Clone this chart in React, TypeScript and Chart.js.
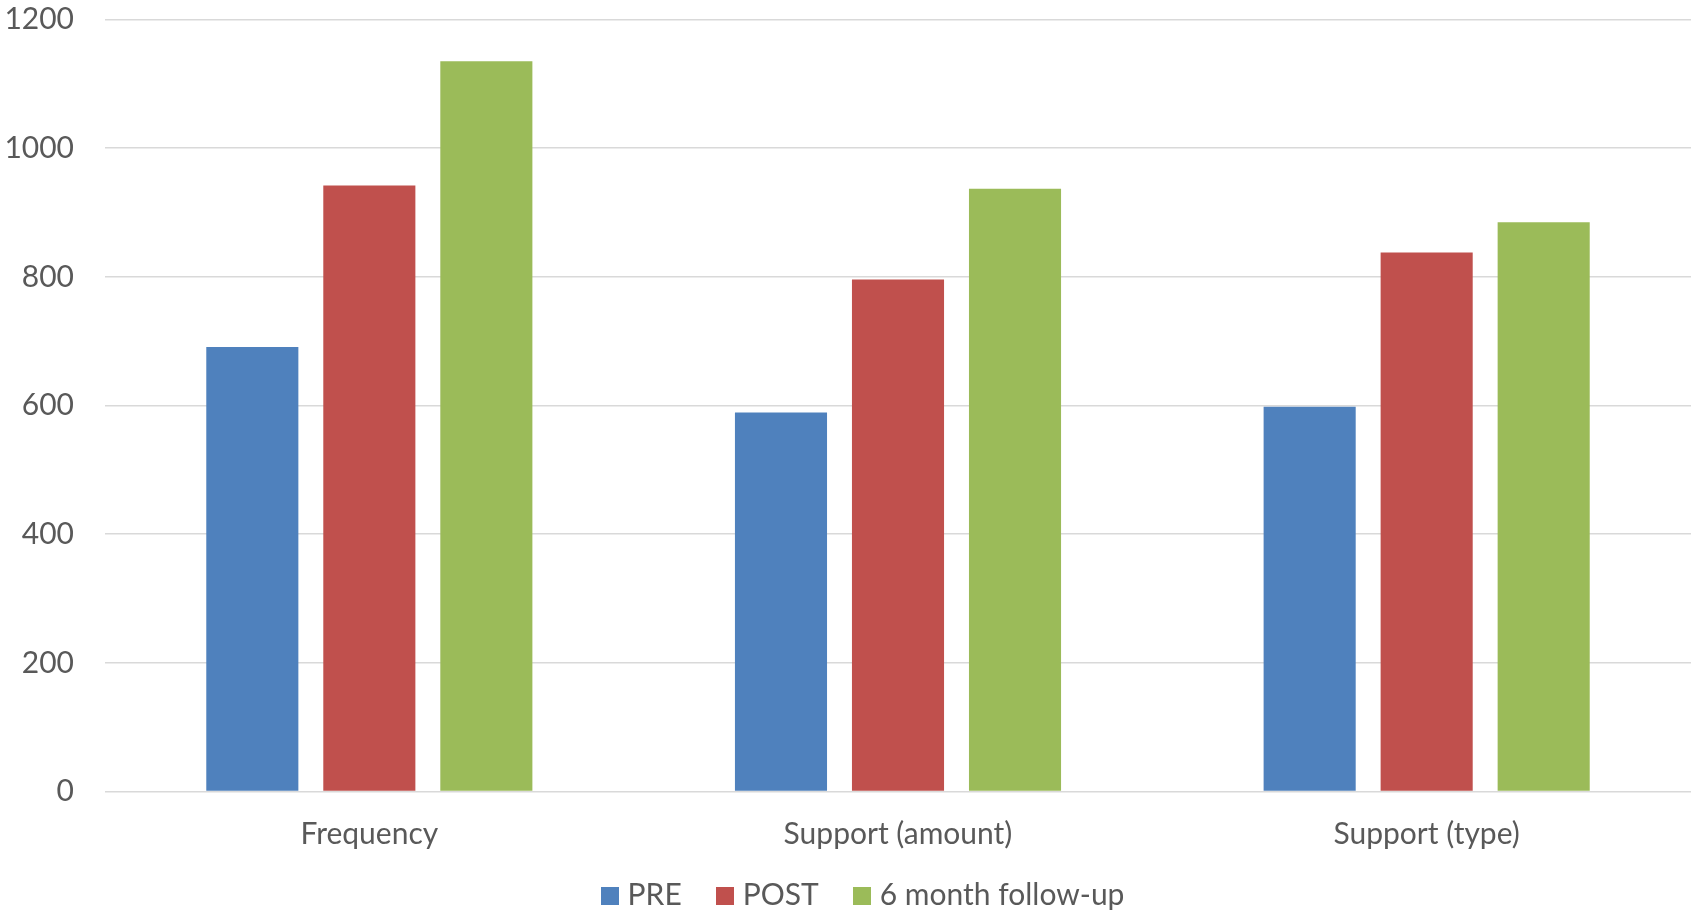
import React, { useEffect, useRef } from "react";
import { Chart, registerables } from "chart.js";

Chart.register(...registerables);

const categories = ["Frequency", "Support (amount)", "Support (type)"];
const preValues = [691, 589, 598];
const postValues = [942, 796, 838];
const followUpValues = [1135, 937, 885];
const seriesLabels = ["PRE", "POST", "6 month follow-up"];
const seriesColors = ["#4F81BD", "#C0504D", "#9BBB59"];
const yTicks = [0, 200, 400, 600, 800, 1000, 1200];

const FONT = "Lato, 'Noto Sans', sans-serif";
const TEXT = "#595959";
const FONT_SIZE = 30;
const SWATCH = 18;

// Square legend swatch painted on a small offscreen canvas.
function makeSwatch(color: string): HTMLCanvasElement {
  const c = document.createElement("canvas");
  c.width = SWATCH;
  c.height = SWATCH;
  const ctx = c.getContext("2d");
  if (ctx) {
    ctx.fillStyle = color;
    ctx.fillRect(0, 0, SWATCH, SWATCH);
  }
  return c;
}

// Moves the legend row slightly right and up from its default slot.
const legendShift = {
  id: "legendShift",
  afterLayout(chart: any) {
    const lg = chart.legend;
    if (lg) {
      lg.left += 20;
      lg.right += 20;
      lg.top -= 10;
      lg.bottom -= 10;
    }
  },
};

export default function App() {
  const ref = useRef<HTMLCanvasElement | null>(null);

  useEffect(() => {
    document.body.style.margin = "0";
    const canvas = ref.current;
    if (!canvas) return;
    const swatches = seriesColors.map(makeSwatch);
    const values = [preValues, postValues, followUpValues];
    const chart = new Chart(canvas, {
      type: "bar",
      data: {
        labels: categories,
        datasets: seriesLabels.map((label, i) => ({
          label,
          data: values[i],
          backgroundColor: seriesColors[i],
        })),
      },
      plugins: [legendShift],
      options: {
        responsive: false,
        animation: false,
        devicePixelRatio: 1,
        layout: { padding: { top: 19.5, right: 9, left: 0, bottom: -17.5 } },
        datasets: {
          bar: { categoryPercentage: 0.664, barPercentage: 0.787 },
        },
        scales: {
          x: {
            grid: { display: false },
            border: { display: false },
            afterFit: (scale: any) => {
              scale.height = 59;
            },
            ticks: {
              color: TEXT,
              font: { family: FONT, size: FONT_SIZE, lineHeight: 1.2 },
              padding: 16.5,
            },
          },
          y: {
            min: 0,
            max: 1200,
            afterBuildTicks: (scale: any) => {
              scale.ticks = yTicks.map((v) => ({ value: v }));
            },
            afterFit: (scale: any) => {
              scale.width = 105;
              scale.paddingTop = 0;
              scale.paddingBottom = 0;
            },
            grid: { color: "#D9D9D9", lineWidth: 1.5, drawTicks: false },
            border: { display: false },
            ticks: {
              color: TEXT,
              font: { family: FONT, size: FONT_SIZE },
              padding: 31,
              callback: (value: any) => String(value),
            },
          },
        },
        plugins: {
          legend: {
            position: "bottom",
            labels: {
              color: TEXT,
              font: { family: FONT, size: FONT_SIZE },
              usePointStyle: true,
              boxWidth: 6,
              boxHeight: SWATCH,
              padding: 40,
              generateLabels: (c: any) => {
                const items = Chart.defaults.plugins.legend.labels.generateLabels(c);
                return items.map((item: any, i: number) => ({
                  ...item,
                  pointStyle: swatches[i],
                }));
              },
            },
          },
          tooltip: { enabled: false },
        },
      },
    });
    return () => chart.destroy();
  }, []);

  return <canvas ref={ref} width={1700} height={913} style={{ display: "block" }} />;
}
